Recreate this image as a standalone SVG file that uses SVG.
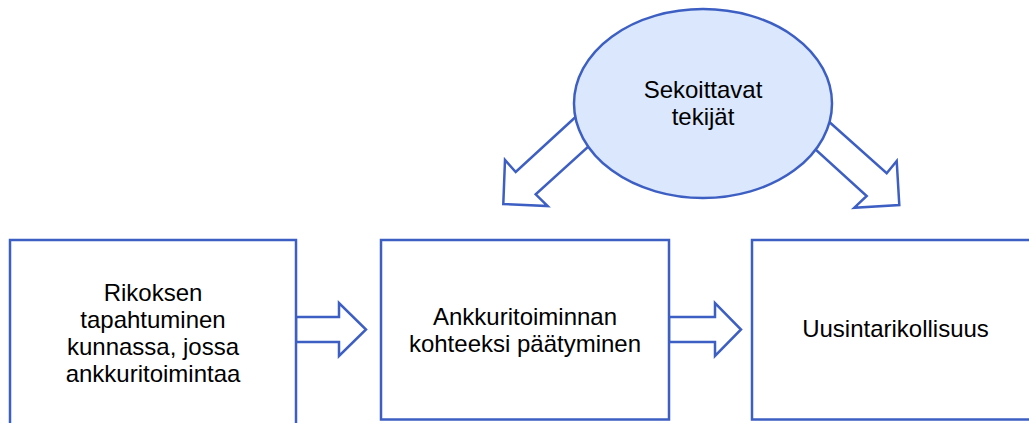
<svg xmlns="http://www.w3.org/2000/svg" width="1029" height="423" viewBox="0 0 1029 423">
<style>
.box{fill:#ffffff;stroke:#3d5fc3;stroke-width:2.5}
.arr{fill:#ffffff;stroke:#3d5fc3;stroke-width:2.5;stroke-linejoin:miter}
.ell{fill:#dae7fc;stroke:#3d5fc3;stroke-width:2.5}
text{font-family:"Liberation Sans",Arial,sans-serif;font-size:24px;fill:#000000;text-anchor:middle}
</style>
<rect width="1029" height="423" fill="#ffffff"/>
<g id="connectors">
<polygon class="arr" points="296,317 339,317 339,303 366,329.5 339,356 339,342 296,342"/>
<polygon class="arr" points="669,317 715,317 715,303 741,329.5 715,356 715,342 669,342"/>
<polygon class="arr" points="581,112 515.7,172 505,160 503.3,204 547.7,206 535.7,194.3 594,141.5"/>
<polygon class="arr" points="824,117.3 886.7,173.3 896.7,161 899.3,205 854.3,207.7 866.7,196 810,144.5"/>
</g>
<g id="node-sekoittavat">
<ellipse class="ell" cx="703" cy="103.5" rx="129" ry="94.5"/>
<text x="703" y="98">Sekoittavat</text>
<text x="703" y="125">tekijät</text>
</g>
<g id="node-rikoksen">
<rect class="box" x="10" y="240" width="286" height="200"/>
<text x="153" y="301">Rikoksen</text>
<text x="153" y="328">tapahtuminen</text>
<text x="153" y="355">kunnassa, jossa</text>
<text x="153" y="382">ankkuritoimintaa</text>
</g>
<g id="node-ankkuri">
<rect class="box" x="381" y="240" width="288" height="179.5"/>
<text x="525" y="325">Ankkuritoiminnan</text>
<text x="525" y="352">kohteeksi päätyminen</text>
</g>
<g id="node-uusinta">
<rect class="box" x="752" y="240" width="300" height="179.5"/>
<text x="895.5" y="337">Uusintarikollisuus</text>
</g>
</svg>
